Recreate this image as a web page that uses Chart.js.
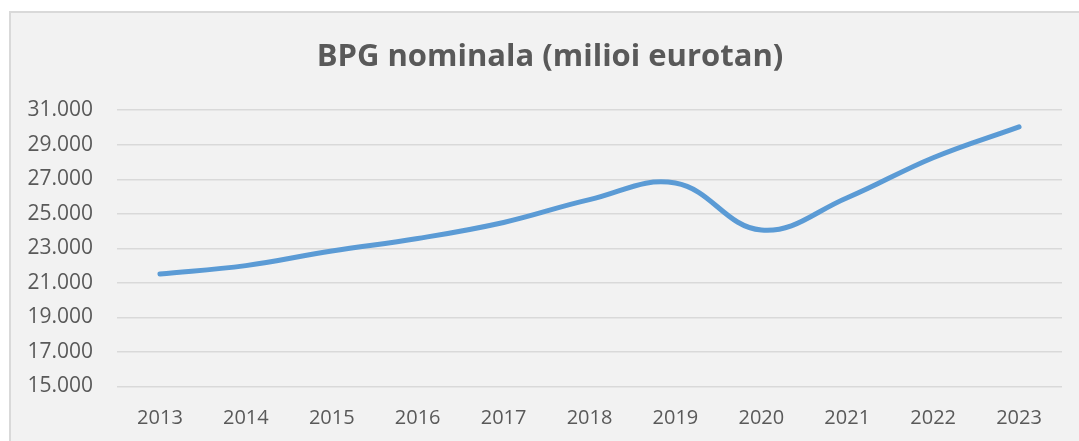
<!DOCTYPE html>
<html>
<head>
<meta charset="utf-8">
<script src="https://cdn.jsdelivr.net/npm/chart.js@4"></script>
<style>
  html, body { margin: 0; padding: 0; background: #fff; }
  #frame {
    position: absolute; left: 9px; top: 11px; right: -4px; bottom: -4px;
    background: #f2f2f2; border: 2px solid #d9d9d9;
  }
  #wrap { position: absolute; left: 0; top: 0; width: 1079px; height: 441px; }
</style>
</head>
<body>
<div id="frame"></div>
<div id="wrap"><canvas id="c"></canvas></div>
<script>
// data
const years = ['2013','2014','2015','2016','2017','2018','2019','2020','2021','2022','2023'];
const gdp = [21520, 22000, 22850, 23570, 24500, 25820, 26780, 24060, 25930, 28250, 30040];
const yTicks = [15000, 17000, 19000, 21000, 23000, 25000, 27000, 29000, 31000];

const grey = '#595959';

// nudge the title so it sits centred on the whole frame, like the original
const titleShift = {
  id: 'titleShift',
  afterLayout(chart) {
    const t = chart.titleBlock;
    if (t) { t.left += 19; t.right += 19; }
  }
};

new Chart(document.getElementById('c'), {
  type: 'line',
  data: {
    labels: years,
    datasets: [{
      label: 'BPG nominala',
      data: gdp,
      borderColor: '#5b9bd5',
      borderWidth: 5,
      borderCapStyle: 'round',
      tension: 0.4,
      pointRadius: 0,
      fill: false
    }]
  },
  options: {
    responsive: true,
    maintainAspectRatio: false,
    animation: false,
    layout: { padding: { left: 0, right: 17, top: 0, bottom: 13 } },
    plugins: {
      legend: { display: false },
      tooltip: { enabled: false },
      title: {
        display: true,
        text: 'BPG nominala (milioi eurotan)',
        color: grey,
        font: { family: 'Open Sans', size: 31, weight: 'bold', lineHeight: 1.2 },
        padding: { top: 39, bottom: 34 }
      }
    },
    scales: {
      x: {
        offset: true,
        afterFit: (s) => { s.height = 41.5; },
        grid: { display: false, drawTicks: false },
        border: { display: false },
        ticks: { color: grey, font: { family: 'Open Sans', size: 20 }, padding: 20, maxRotation: 0 }
      },
      y: {
        min: yTicks[0],
        max: yTicks[yTicks.length - 1],
        afterBuildTicks: (s) => { s.ticks = yTicks.map(v => ({ value: v })); },
        afterFit: (s) => { s.width = 117; },
        grid: { color: '#d9d9d9', lineWidth: 1.5, drawTicks: false },
        border: { display: false },
        ticks: {
          color: grey,
          font: { family: 'Open Sans', size: 21 },
          padding: 24,
          callback: (v) => (v / 1000).toFixed(3)
        }
      }
    }
  },
  plugins: [titleShift]
});
</script>
</body>
</html>
